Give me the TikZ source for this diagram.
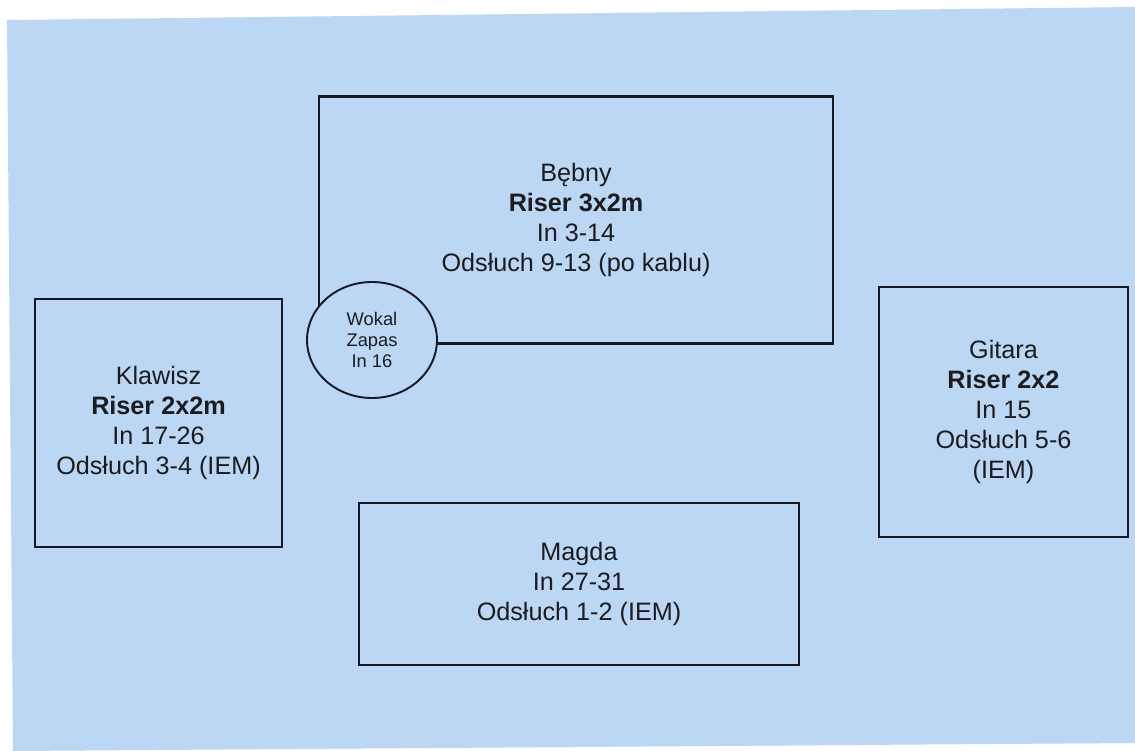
\documentclass[tikz,border=0pt]{standalone}
\usepackage{fontspec}
\setmainfont{Liberation Sans}
\usetikzlibrary{shapes.geometric,positioning}
\definecolor{stagecol}{RGB}{188,215,243}
\definecolor{linecol}{RGB}{22,24,34}
\definecolor{inkcol}{RGB}{28,28,32}

\begin{document}
\begin{tikzpicture}[
    x=1pt, y=-1pt,
    riser/.style={rectangle, draw=linecol, line width=2.1pt, align=center, inner sep=0pt, text=inkcol, font=\fontsize{25.2}{30}\selectfont},
    vocal/.style={ellipse, draw=linecol, line width=1.9pt, fill=stagecol, align=center, inner sep=0pt, text=inkcol, font=\fontsize{18.3}{21}\selectfont},
]
\useasboundingbox (0,0) rectangle (1135,751);
\fill[white] (0,0) rectangle (1135,751);
\fill[stagecol] (7,20) -- (1135,7) -- (1135,743) -- (13,751) -- cycle;

\node[riser, minimum width=514, minimum height=247] (drums) at (576,220) {B\k{e}bny\\\textbf{Riser 3x2m}\\In 3-14\\Ods\l{}uch 9-13 (po kablu)};
\node[vocal, minimum width=130, minimum height=116] (spare) at (372,340) {Wokal\\Zapas\\In 16};

\node[riser, minimum width=247, minimum height=248] (keys) at (158.5,423) {Klawisz\\\textbf{Riser 2x2m}\\In 17-26\\Ods\l{}uch 3-4 (IEM)};
\node[riser, minimum width=249, minimum height=250] (guitar) at (1003.5,412) {Gitara\\\textbf{Riser 2x2}\\In 15\\Ods\l{}uch 5-6\\(IEM)};
\node[riser, minimum width=440, minimum height=162] (magda) at (579,584) {Magda\\In 27-31\\Ods\l{}uch 1-2 (IEM)};

\end{tikzpicture}
\end{document}
